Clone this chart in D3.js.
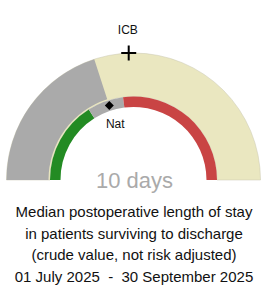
<!DOCTYPE html>
<html>
<head>
<meta charset="utf-8">
<script src="https://cdn.jsdelivr.net/npm/d3@7"></script>
<style>
  body { margin: 0; background: #fff; }
  svg { display: block; }
</style>
</head>
<body>
<div id="gauge"></div>
<script>
// chart values
var gaugeDomain = [0, 25];          // days, left end to right end of the dial
var hospitalValue = 10;             // median length of stay (days)
var bandLimits = [8.0, 11.5];       // green up to first, red from second
var markerNames = ["ICB", "Nat"];
var markerValues = [12.2, 10];
var unitLabel = "days";
var captionLines = [
  "Median postoperative length of stay",
  "in patients surviving to discharge",
  "(crude value, not risk adjusted)",
  "01 July 2025  -  30 September 2025"
];

// svg size
var svgWidth = 262;
var svgHeight = 290;

// dial geometry
var cx = 133.5;
var cy = 180;
var outerR = 127;
var outerInnerR = 85;
var ringOuterR = 83.5;
var ringInnerR = 73;

var svg = d3.select("#gauge")
  .append("svg")
  .attr("width", svgWidth)
  .attr("height", svgHeight)
  .style("font-family", "'Liberation Sans', Arial, sans-serif");

var dial = svg.append("g")
  .attr("transform", `translate(${cx}, ${cy})`);

// value -> angle (0 = straight up)
var angle = d3.scaleLinear()
  .domain(gaugeDomain)
  .range([-Math.PI / 2, Math.PI / 2])
  .clamp(true);

var arc = d3.arc();

function polar(r, a) {
  return [r * Math.sin(a), -r * Math.cos(a)];
}

// outer band: cream background, grey up to the hospital value
dial.append("path")
  .attr("d", arc({innerRadius: ringOuterR, outerRadius: outerR,
    startAngle: angle(gaugeDomain[0]), endAngle: angle(gaugeDomain[1])}))
  .attr("fill", "#eae7c0")
  .attr("stroke", "#c9c7b0")
  .attr("stroke-width", 0.5);

dial.append("path")
  .attr("d", arc({innerRadius: outerInnerR, outerRadius: outerR,
    startAngle: angle(gaugeDomain[0]), endAngle: angle(hospitalValue)}))
  .attr("fill", "#aaaaaa");

// inner ring: green / grey / red
var ringSegments = [
  {from: gaugeDomain[0], to: bandLimits[0], fill: "#238b23"},
  {from: bandLimits[0], to: bandLimits[1], fill: "#aaaaaa"},
  {from: bandLimits[1], to: gaugeDomain[1], fill: "#c94444"}
];

dial.selectAll("path.ring")
  .data(ringSegments)
  .enter()
  .append("path")
  .attr("class", "ring")
  .attr("d", d => arc({innerRadius: ringInnerR, outerRadius: ringOuterR,
    startAngle: angle(d.from), endAngle: angle(d.to)}))
  .attr("fill", d => d.fill);

// ICB marker: cross on the outer edge
var icbA = angle(markerValues[0]);
var icbP = polar(outerR, icbA);
var arm = 7.5;
dial.append("path")
  .attr("d", `M${icbP[0] - arm},${icbP[1]}H${icbP[0] + arm}M${icbP[0]},${icbP[1] - arm}V${icbP[1] + arm}`)
  .attr("stroke", "#000")
  .attr("stroke-width", 2)
  .attr("fill", "none");

var icbL = polar(150, icbA);
dial.append("text")
  .attr("x", icbL[0])
  .attr("y", icbL[1])
  .attr("dy", "0.35em")
  .attr("text-anchor", "middle")
  .attr("font-size", "12px")
  .attr("fill", "#111")
  .text(markerNames[0]);

// Nat marker: diamond in the middle of the ring
var natA = angle(markerValues[1]);
var natP = polar((ringOuterR + ringInnerR) / 2, natA);
dial.append("path")
  .attr("d", d3.symbol().type(d3.symbolSquare).size(40))
  .attr("transform", `translate(${natP[0]}, ${natP[1]}) rotate(45)`)
  .attr("fill", "#000");

var natL = polar(59, natA);
dial.append("text")
  .attr("x", natL[0])
  .attr("y", natL[1])
  .attr("dy", "0.35em")
  .attr("text-anchor", "middle")
  .attr("font-size", "12px")
  .attr("fill", "#111")
  .text(markerNames[1]);

// big value
svg.append("text")
  .attr("x", cx + 1)
  .attr("y", 188)
  .attr("text-anchor", "middle")
  .attr("font-size", "22px")
  .attr("fill", "#aaaaaa")
  .text(`${hospitalValue} ${unitLabel}`);

// caption
svg.append("g").selectAll("text")
  .data(captionLines)
  .enter()
  .append("text")
  .attr("x", cx + 0.5)
  .attr("y", (d, i) => 217 + i * 21.5)
  .attr("text-anchor", "middle")
  .attr("font-size", "15px")
  .attr("fill", "#111")
  .style("white-space", "pre")
  .text(d => d);
</script>
</body>
</html>
